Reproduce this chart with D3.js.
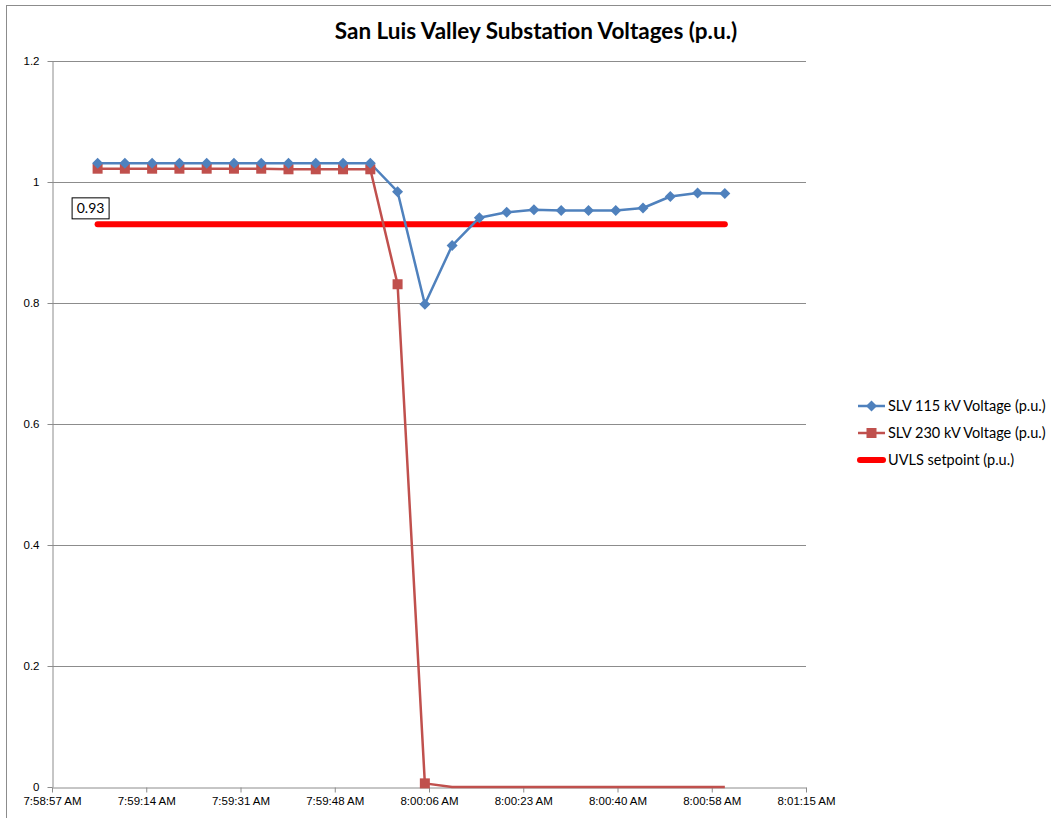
<!DOCTYPE html>
<html>
<head>
<meta charset="utf-8">
<script src="https://cdn.jsdelivr.net/npm/d3@7"></script>
<style>
  body { margin: 0; background: #fff; }
  svg { font-family: Lato, "Open Sans", sans-serif; }
  .grid line { stroke: #8c8c8c; stroke-width: 1; }
  .axis path, .axis line { stroke: #8c8c8c; }
  .axis text { fill: #000; font-size: 11.5px; }
</style>
</head>
<body>
<svg class="chartsvg" width="1051" height="818"></svg>
<script>
// sample times (one reading every 5 s)
var times = ["7:59:05","7:59:10","7:59:15","7:59:20","7:59:25","7:59:30","7:59:35","7:59:40",
             "7:59:45","7:59:50","7:59:55","8:00:00","8:00:05","8:00:10","8:00:15","8:00:20",
             "8:00:25","8:00:30","8:00:35","8:00:40","8:00:45","8:00:50","8:00:55","8:01:00"];

var slv115 = [1.031,1.031,1.031,1.031,1.031,1.031,1.031,1.031,1.031,1.031,1.031,0.984,
              0.798,0.895,0.941,0.950,0.954,0.953,0.953,0.953,0.957,0.976,0.982,0.981];

var slv230 = [1.022,1.022,1.022,1.022,1.022,1.022,1.022,1.021,1.021,1.021,1.021,0.831,
              0.006,0,0,0,0,0,0,0,0,0,0,0];

var uvls = 0.93;

var seriesNames = ["SLV 115 kV Voltage (p.u.)", "SLV 230 kV Voltage (p.u.)", "UVLS setpoint (p.u.)"];

var yTicks = [0, 0.2, 0.4, 0.6, 0.8, 1, 1.2];
var xTickLabels = ["7:58:57 AM","7:59:14 AM","7:59:31 AM","7:59:48 AM","8:00:06 AM",
                   "8:00:23 AM","8:00:40 AM","8:00:58 AM","8:01:15 AM"];
var axisStart = 28736.64;   // seconds after midnight
var majorUnit = 17.28;      // seconds

function toSec(t)
{
	var p = t.split(":").map(Number);
	return p[0]*3600 + p[1]*60 + p[2];
}

var margin = {top: 61, right: 245, bottom: 31, left: 52};
var width = 1051 - margin.left - margin.right;
var height = 818 - margin.top - margin.bottom;

var svg = d3.select(".chartsvg");

// chart border
svg.append("rect")
    .attr("x", 6.5).attr("y", 5.5)
    .attr("width", 1100).attr("height", 900)
    .attr("fill", "none")
    .attr("stroke", "#8c8c8c");

svg.append("text")
    .attr("x", 536).attr("y", 39)
    .style("text-anchor", "middle")
    .style("font-size", "22.5px")
    .style("font-weight", "bold")
    .text("San Luis Valley Substation Voltages (p.u.)");

var x = d3.scaleLinear()
    .domain([axisStart, axisStart + majorUnit*(xTickLabels.length-1)])
    .range([0, width]);
var y = d3.scaleLinear().domain([0, 1.2]).range([height, 0]);

var g = svg.append("g")
    .attr("transform", "translate(" + margin.left + "," + margin.top + ")");

g.append("g").attr("class", "grid")
  .selectAll("line").data(yTicks.filter(function(d){ return d > 0; }))
  .enter().append("line")
    .attr("x1", 0).attr("x2", width)
    .attr("y1", function(d){ return Math.round(y(d)) + 0.5; })
    .attr("y2", function(d){ return Math.round(y(d)) + 0.5; });

var xTickVals = xTickLabels.map(function(d, i){ return axisStart + i*majorUnit; });

g.append("g").attr("class", "axis")
    .attr("transform", "translate(0," + (height + 0.5) + ")")
    .call(d3.axisBottom(x).tickValues(xTickVals)
          .tickFormat(function(d, i){ return xTickLabels[i]; })
          .tickSizeInner(5).tickSizeOuter(0).tickPadding(4));

g.append("g").attr("class", "axis")
    .attr("transform", "translate(0.5,0)")
    .call(d3.axisLeft(y).tickValues(yTicks)
          .tickFormat(function(d){ return d3.format("")(d); })
          .tickSizeInner(5).tickSizeOuter(0).tickPadding(8));

var blue = "#4f81bd", red = "#c0504d";

var line = d3.line()
    .x(function(d){ return x(toSec(d.t)); })
    .y(function(d){ return y(d.v); });

var d115 = times.map(function(t, i){ return {t: t, v: slv115[i]}; });
var d230 = times.map(function(t, i){ return {t: t, v: slv230[i]}; });

// UVLS setpoint line
g.append("line")
    .attr("x1", x(toSec(times[0]))).attr("x2", x(toSec(times[times.length-1])))
    .attr("y1", y(uvls)).attr("y2", y(uvls))
    .attr("stroke", "#ff0000").attr("stroke-width", 6)
    .attr("stroke-linecap", "round");

g.append("path").datum(d230)
    .attr("d", line).attr("fill", "none")
    .attr("stroke", red).attr("stroke-width", 2.5)
    .attr("stroke-linejoin", "round");

g.append("path").datum(d115)
    .attr("d", line).attr("fill", "none")
    .attr("stroke", blue).attr("stroke-width", 2.5)
    .attr("stroke-linejoin", "round");

g.selectAll(".sq").data(d230.filter(function(d){ return d.v > 0; }))
  .enter().append("rect").attr("class", "sq")
    .attr("x", function(d){ return x(toSec(d.t)) - 5; })
    .attr("y", function(d){ return y(d.v) - 5; })
    .attr("width", 10).attr("height", 10)
    .attr("fill", red);

var diamondPath = "M0,-5.5L5.5,0L0,5.5L-5.5,0Z";
g.selectAll(".dm").data(d115)
  .enter().append("path").attr("class", "dm")
    .attr("transform", function(d){ return "translate(" + x(toSec(d.t)) + "," + y(d.v) + ")"; })
    .attr("d", diamondPath)
    .attr("fill", blue);

// data label for setpoint
var lx = x(toSec(times[0])) - 26, ly = y(uvls) - 27;
g.append("rect")
    .attr("x", lx + 0.5).attr("y", ly + 0.5)
    .attr("width", 37).attr("height", 21)
    .attr("fill", "#fff").attr("stroke", "#000");
g.append("text")
    .attr("x", lx + 19).attr("y", ly + 16)
    .style("text-anchor", "middle")
    .style("font-size", "14px")
    .text(uvls);

// legend
var legend = svg.append("g").attr("class", "legendgroup")
    .attr("transform", "translate(858,406)");
var rowH = 27;
seriesNames.forEach(function(name, i){
	var row = legend.append("g").attr("transform", "translate(0," + (i*rowH) + ")");
	var col = i == 0 ? blue : (i == 1 ? red : "#ff0000");
	row.append("line")
	   .attr("x1", i == 2 ? 2 : 0).attr("x2", i == 2 ? 25 : 27)
	   .attr("stroke", col).attr("stroke-width", i == 2 ? 6 : 2.5)
	   .attr("stroke-linecap", i == 2 ? "round" : "butt");
	if(i == 0)
		row.append("path").attr("d", diamondPath).attr("transform", "translate(13.5,0)").attr("fill", blue);
	else if(i == 1)
		row.append("rect").attr("x", 8.5).attr("y", -5).attr("width", 10).attr("height", 10).attr("fill", red);
	row.append("text")
	   .attr("x", 30).attr("y", 5)
	   .style("font-size", "14.5px")
	   .text(name);
});
</script>
</body>
</html>
